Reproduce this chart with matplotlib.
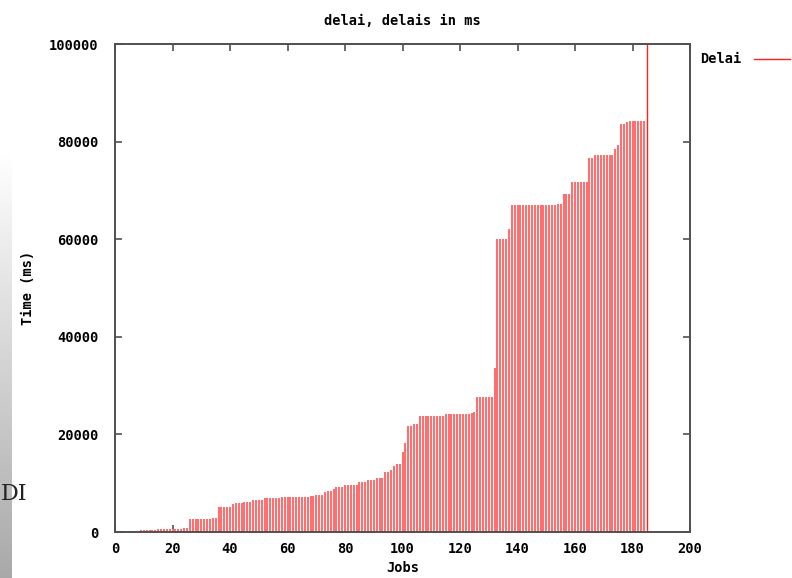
import matplotlib
matplotlib.use("Agg")
import matplotlib.pyplot as plt
from matplotlib.lines import Line2D
import numpy as np

# delay per job (ms)
delays = [
    0, 0, 0, 0, 0, 0, 250, 300, 320, 340,
    350, 350, 380, 400, 550, 550, 580, 600, 700, 620,
    600, 620, 650, 800, 850, 2600, 2600, 2600, 2600, 2600,
    2650, 2650, 2650, 2800, 2900, 5050, 5050, 5050, 5050, 5050,
    5700, 5850, 5900, 6000, 6200, 6200, 6200, 6500, 6500, 6500,
    6500, 6950, 6950, 6950, 6950, 6950, 6950, 7250, 7250, 7250,
    7250, 7250, 7250, 7250, 7250, 7250, 7250, 7380, 7380, 7580,
    7580, 7580, 8200, 8470, 8470, 8800, 9200, 9290, 9290, 9560,
    9560, 9560, 9560, 9560, 10300, 10300, 10300, 10590, 10590, 10590,
    11000, 11000, 11000, 12300, 12300, 12700, 13500, 13870, 13870, 16300,
    18200, 21800, 21800, 22050, 22200, 23770, 23770, 23770, 23770, 23770,
    23770, 23770, 23770, 23770, 24250, 24250, 24250, 24250, 24250, 24250,
    24250, 24250, 24250, 24450, 24600, 27700, 27700, 27700, 27700, 27700,
    27700, 33700, 60000, 60000, 60000, 60000, 62000, 66940, 66940, 66940,
    66940, 66940, 66940, 66940, 66940, 66940, 66940, 66940, 66940, 66940,
    66940, 66940, 66940, 67200, 67200, 69260, 69260, 69260, 71650, 71650,
    71650, 71650, 71650, 71650, 76700, 76700, 77190, 77190, 77190, 77190,
    77190, 77190, 77190, 78420, 79240, 83610, 83610, 83950, 84220, 84220,
    84220, 84220, 84220, 84220, 130000,
]
jobs = np.arange(1, len(delays) + 1)

x_ticks = list(range(0, 201, 20))
y_ticks = list(range(0, 100001, 20000))

font = dict(family="DejaVu Sans Mono", weight="bold", size=9.8)
frame_color = "#505050"

fig = plt.figure(figsize=(7.92, 5.78), dpi=100)

# grey slide background strip on the far left of the screenshot
bg = fig.add_axes([0, 0, 12 / 792, (578 - 150) / 578])
bg.imshow(np.linspace(1.0, 0.66, 256).reshape(-1, 1), cmap="gray", vmin=0, vmax=1,
          aspect="auto", extent=[0, 1, 0, 1])
bg.axis("off")
fig.text(0.001, 0.135, "DI", family="DejaVu Serif", size=16, color="#222222")

ax = fig.add_axes([115 / 792, 46 / 578, 575 / 792, 488 / 578])
ax.vlines(jobs[:-1], 0, delays[:-1], color="#ff6f6f", linewidth=1.45)
ax.vlines(jobs[-1:], 0, delays[-1:], color="#ff2020", linewidth=1.0)

ax.set_xlim(0, 200)
ax.set_ylim(0, 100000)
ax.set_xticks(x_ticks)
ax.set_yticks(y_ticks)
ax.set_xticklabels([str(t) for t in x_ticks], **font)
ax.set_yticklabels([str(t) for t in y_ticks], **font)
ax.tick_params(direction="in", top=True, right=True, length=5, width=1.2,
               color=frame_color)
ax.tick_params(axis="y", pad=12)
ax.tick_params(axis="x", pad=7)
for s in ax.spines.values():
    s.set_color(frame_color)
    s.set_linewidth(1.4)

ax.set_title("delai, delais in ms", pad=14, **font)
ax.set_xlabel("Jobs", labelpad=4, **font)
ax.set_ylabel("Time (ms)", labelpad=10, **font)

# legend outside the plot area, gnuplot style
fig.text(700 / 792, 1 - 59 / 578, "Delai", va="center", ha="left", **font)
fig.add_artist(Line2D([754 / 792, 790 / 792], [1 - 59 / 578, 1 - 59 / 578],
                      color="#ff2020", linewidth=1.0, transform=fig.transFigure))

fig.savefig("out.png", dpi=100)
